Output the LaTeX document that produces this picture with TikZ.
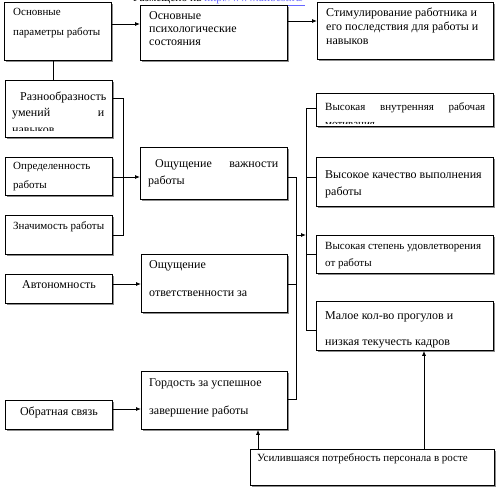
\documentclass[tikz,border=0pt]{standalone}
\usepackage{fontspec}
\setmainfont{Liberation Serif}
\usetikzlibrary{shadows,calc,arrows.meta}
\begin{document}
\begin{tikzpicture}[x=1pt,y=-1pt,
  box/.style={draw=black, line width=0.8pt, fill=white, anchor=north west, inner sep=0pt,
    drop shadow={shadow xshift=1.3pt, shadow yshift=-1.3pt, fill=black!45, opacity=1}},
  txt/.style={anchor=mid west, inner sep=0pt},
  ctxt/.style={anchor=mid, inner sep=0pt},
  ln/.style={draw=black, line width=0.8pt},
  arr/.style={ln, -{Latex[length=5pt,width=4pt]}},
  fs/.style={font=\fontsize{11}{13}\selectfont},
  fl/.style={font=\fontsize{12}{14}\selectfont}]
\useasboundingbox (0,0) rectangle (498,488);
% partially visible header
\node[anchor=base west, inner sep=0pt, font=\fontsize{11.5}{13}\selectfont] (hdr) at (133,1.5) {Размещено на \textcolor{blue!60!white}{\underline{http://www.allbest.ru/}}};
% boxes
\node[box, minimum width=107pt, minimum height=58pt] (b1) at (4,2) {};
\node[box, minimum width=147pt, minimum height=55pt] (b2) at (140,5) {};
\node[box, minimum width=176pt, minimum height=57pt] (b3) at (317,2) {};
\node[box, minimum width=107pt, minimum height=57pt] (b4) at (5,80) {};
\node[box, minimum width=107pt, minimum height=38pt] (b5) at (5,157) {};
\node[box, minimum width=107pt, minimum height=39pt] (b6) at (5,215) {};
\node[box, minimum width=147pt, minimum height=52pt] (b7) at (140,147) {};
\node[box, minimum width=107pt, minimum height=29pt] (b8) at (5,274) {};
\node[box, minimum width=146pt, minimum height=58pt] (b9) at (141,254) {};
\node[box, minimum width=107pt, minimum height=29pt] (b10) at (5,400) {};
\node[box, minimum width=146pt, minimum height=58pt] (b11) at (141,371) {};
\node[box, minimum width=244pt, minimum height=36pt] (b12) at (250,449) {};
\node[box, minimum width=177pt, minimum height=33pt] (b13) at (316,93) {};
\node[box, minimum width=177pt, minimum height=49pt] (b14) at (316,157) {};
\node[box, minimum width=177pt, minimum height=38pt] (b15) at (316,235) {};
\node[box, minimum width=177pt, minimum height=49pt] (b16) at (316,301) {};
% texts
\node[txt, fs] (t1a) at (13,13) {Основные};
\node[txt, fs] (t1b) at (13,33) {параметры работы};
\node[txt, fl] (t2a) at (149,17) {Основные};
\node[txt, fl] (t2b) at (149,30) {психологические};
\node[txt, fl] (t2c) at (149,43) {состояния};
\node[txt, fl] (t3a) at (326,14) {Стимулирование работника и};
\node[txt, fl] (t3b) at (326,28) {его последствия для работы и};
\node[txt, fl] (t3c) at (326,42) {навыков};
\node[txt, fl] (t4a) at (20,98) {Разнообразность};
\node[txt, fl] (t4b) at (12,114) {\makebox[92pt][s]{умений и}};
\begin{scope}
\clip (5,80) rectangle (112,130.5);
\node[txt, fl] (t4c) at (12,131.5) {навыков};
\end{scope}
\node[txt, fs] (t5a) at (13,167) {Определенность};
\node[txt, fs] (t5b) at (13,186) {работы};
\node[txt, fs] (t6a) at (13,227) {Значимость работы};
\node[txt, fl] (t7a) at (155,165) {\makebox[123pt][s]{Ощущение важности}};
\node[txt, fl] (t7b) at (148,182) {работы};
\node[ctxt, fl] (t8a) at (59,286) {Автономность};
\node[txt, fl] (t9a) at (149,266) {Ощущение};
\node[txt, fl] (t9b) at (149,294) {ответственности за};
\node[ctxt, fl] (t10a) at (59,413) {Обратная связь};
\node[txt, fl] (t11a) at (149,384) {Гордость за успешное};
\node[txt, fl] (t11b) at (149,412) {завершение работы};
\node[txt, fs] (t12a) at (257,459) {Усилившаяся потребность персонала в росте};
\node[txt, fs] (t13a) at (325,108) {\makebox[160pt][s]{Высокая внутренняя рабочая}};
\begin{scope}
\clip (316,93) rectangle (493,123.5);
\node[txt, fs] (t13b) at (325,125.5) {мотивация};
\end{scope}
\node[txt, fl] (t14a) at (325,176) {Высокое качество выполнения};
\node[txt, fl] (t14b) at (325,193) {работы};
\node[txt, fs] (t15a) at (325,247) {Высокая степень удовлетворения};
\node[txt, fs] (t15b) at (325,264) {от работы};
\node[txt, fl] (t16a) at (325,317) {Малое кол-во прогулов и};
\node[txt, fl] (t16b) at (325,343) {низкая текучесть кадров};
% junction coordinates
\coordinate (jl) at (123,235);
\coordinate (jr) at (296,235);
\coordinate (jo) at (306,235);
% connectors
\draw[arr] (b1.east |- 0,24) -- (b2.west |- 0,24);
\draw[arr] (b2.east |- 0,21) -- (b3.west |- 0,21);
\draw[ln] (b1.south -| 53,0) -- (b4.north -| 53,0);
\draw[ln] (b4.east |- 0,98) -| (jl) -- (b6.east |- jl);
\draw[arr] (b5.east |- 0,177) -- (b7.west |- 0,177);
\draw[arr] (b8.east |- 0,284) -- (b9.west |- 0,284);
\draw[arr] (b10.east |- 0,409) -- (b11.west |- 0,409);
\draw[ln] (b7.east |- 0,177) -| (jr);
\draw[ln] (b11.east |- 0,399) -| (jr);
\draw[ln] (b9.east |- 0,284) -- (jr |- 0,284);
\draw[arr] (jr) -- (jo);
\draw[ln] (b13.west |- 0,108) -| (jo);
\draw[ln] (b16.west |- 0,330) -| (jo);
\draw[ln] (b14.west |- 0,177) -- (jo |- 0,177);
\draw[ln] (b15.west |- 0,254) -- (jo |- 0,254);
\draw[arr] (b12.north -| 258,0) -- (b11.south -| 258,0);
\draw[arr] (b12.north -| 424,0) -- (b16.south -| 424,0);
\end{tikzpicture}
\end{document}
